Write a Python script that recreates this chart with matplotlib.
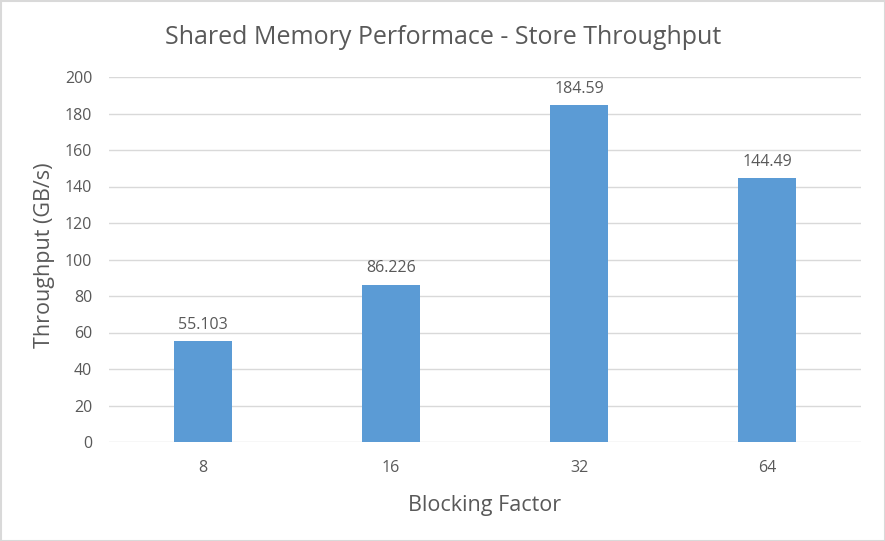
import matplotlib.pyplot as plt
from matplotlib.patches import Rectangle

# Dados do gráfico
fatores = ["8", "16", "32", "64"]
throughput = [55.103, 86.226, 184.59, 144.49]
rotulos = ["55.103", "86.226", "184.59", "144.49"]

plt.rcParams['font.family'] = ['Open Sans', 'DejaVu Sans']
cor_texto = '#595959'

fig = plt.figure(figsize=(8.85, 5.41), dpi=100)
ax = fig.add_axes([109 / 885, 1 - 442 / 541, 752 / 885, 365 / 541])

x = list(range(len(fatores)))
ax.bar(x, throughput, width=0.31, color='#5B9BD5', zorder=3)

# Rótulos de valor acima das barras
for xi, v, r in zip(x, throughput, rotulos):
    ax.annotate(r, (xi, v), xytext=(0, 6), textcoords='offset points',
                ha='center', va='bottom', fontsize=11.5, color=cor_texto)

ax.set_xlim(-0.5, 3.5)
ax.set_ylim(0, 200)
ax.set_yticks(range(0, 201, 20))
ax.set_xticks(x)
ax.set_xticklabels(fatores)
ax.yaxis.grid(True, color='#D9D9D9', linewidth=1, zorder=0)
ax.tick_params(length=0, labelsize=11.5, labelcolor=cor_texto)
ax.tick_params(axis='x', pad=13)
ax.tick_params(axis='y', pad=12)
for s in ax.spines.values():
    s.set_visible(False)

# Título e nomes dos eixos
fig.text(0.501, 1 - 37 / 541, "Shared Memory Performace - Store Throughput",
         fontsize=18, color=cor_texto, ha='center', va='center')
ax.set_xlabel("Blocking Factor", fontsize=15.5, color=cor_texto)
ax.set_ylabel("Throughput (GB/s)", fontsize=15.5, color=cor_texto)
ax.xaxis.set_label_coords(0.5, -(505 - 442) / 365)
ax.xaxis.label.set_va('center')
ax.yaxis.set_label_coords((45 - 109) / 752, 0.5 + 4 / 365)
ax.yaxis.label.set_va('center')

# Borda da figura
fig.patches.append(Rectangle((0.5 / 885, 0.5 / 541), 1 - 1 / 885, 1 - 1 / 541,
                             transform=fig.transFigure, fill=False,
                             edgecolor='#D9D9D9', linewidth=1.5))

fig.savefig("out.png", dpi=100)
